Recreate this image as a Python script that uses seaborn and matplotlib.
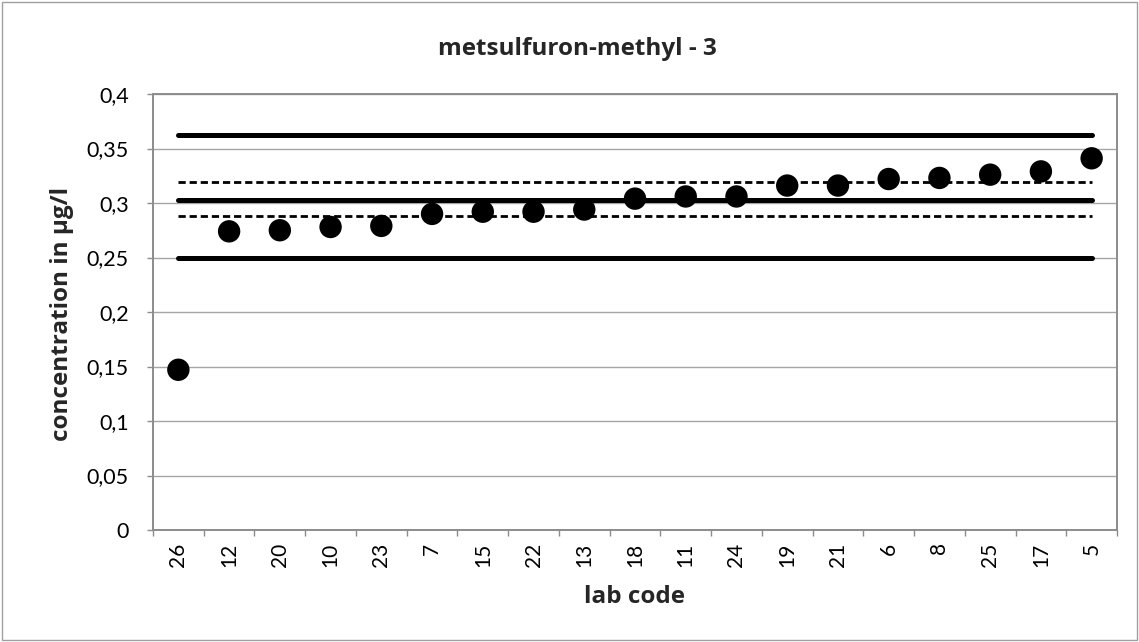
"""
Proficiency test result: metsulfuron-methyl, sample 3
Lab results sorted by value with assigned value and tolerance limits
"""
import matplotlib
matplotlib.use('Agg')
import matplotlib.pyplot as plt
import matplotlib.ticker as mticker
from matplotlib.patches import Rectangle
import pandas as pd
import seaborn as sns

# Lab codes in plotting order and their reported concentrations (µg/l)
lab_codes = ['26', '12', '20', '10', '23', '7', '15', '22', '13', '18',
             '11', '24', '19', '21', '6', '8', '25', '17', '5']
concentration = [0.147, 0.274, 0.275, 0.278, 0.279, 0.290, 0.292, 0.292,
                 0.294, 0.304, 0.306, 0.306, 0.316, 0.316, 0.322, 0.323,
                 0.326, 0.329, 0.341]

# Assigned value and limits
assigned_value = 0.303
tolerance_limits = [0.250, 0.362]
uncertainty_limits = [0.288, 0.319]

y_ticks = [0, 0.05, 0.1, 0.15, 0.2, 0.25, 0.3, 0.35, 0.4]

df = pd.DataFrame({'lab code': lab_codes, 'concentration': concentration})

sns.set_theme(style='white')
plt.rcParams['font.family'] = ['Lato', 'DejaVu Sans']
bold_font = ['Open Sans', 'DejaVu Sans']

W, H = 1139, 642
fig = plt.figure(figsize=(W / 100, H / 100), dpi=100)
ax = fig.add_axes([153 / W, 1 - 530 / H, (1117 - 153) / W, (530 - 94) / H])

grey = '#8c8c8c'

# Reference lines from first to last lab
n = len(lab_codes)
for v in tolerance_limits + [assigned_value]:
    ax.hlines(v, 0, n - 1, colors='black', lw=3.6, capstyle='round', zorder=3)
for v in uncertainty_limits:
    ax.hlines(v, 0, n - 1, colors='black', lw=2.0,
              linestyles=(0, (2.6, 1.4)), zorder=3)

sns.scatterplot(data=df, x='lab code', y='concentration', ax=ax,
                color='black', s=260, edgecolor='none', zorder=4)

ax.set_xlim(-0.5, n - 0.5)
ax.set_ylim(0, 0.4)
ax.set_yticks(y_ticks)
ax.yaxis.set_major_formatter(mticker.FuncFormatter(
    lambda v, p: f'{v:g}'.replace('.', ',')))
ax.set_xticks(range(n))
ax.set_xticklabels(lab_codes, rotation=90)
ax.set_xticks([i - 0.5 for i in range(n + 1)], minor=True)

ax.grid(axis='y', color='#a6a6a6', lw=1.0, zorder=0)
ax.grid(axis='x', visible=False)
ax.set_axisbelow(True)

for s in ax.spines.values():
    s.set_color(grey)
    s.set_linewidth(1.4)

ax.tick_params(axis='y', which='major', left=True, length=4.5, width=1,
               color=grey, labelsize=15.5, pad=13, labelcolor='black')
ax.tick_params(axis='x', which='major', bottom=True, length=0,
               labelsize=15, pad=9, labelcolor='black')
ax.tick_params(axis='x', which='minor', bottom=True, length=4.5, width=1,
               color=grey)

ax.set_xlabel('')
ax.set_ylabel('')

# Axis titles centred on the plot area, chart title on the chart area
fig.text(635 / W, 1 - 603 / H, 'lab code', ha='center', va='baseline',
         fontsize=17.5, fontweight='bold', family=bold_font)
fig.text(62 / W, 1 - 314 / H, 'concentration in µg/l', rotation=90,
         ha='center', va='center', fontsize=17.5, fontweight='bold',
         family=bold_font)
fig.text(577 / W, 1 - 55 / H, 'metsulfuron-methyl - 3', ha='center',
         va='baseline', fontsize=17.5, fontweight='bold', family=bold_font)

# Chart area border
fig.patches.append(Rectangle((0.0015, 0.0025), 0.997, 0.995,
                             transform=fig.transFigure, fill=False,
                             edgecolor='#a0a0a0', lw=1))

fig.savefig('out.png', dpi=100)
